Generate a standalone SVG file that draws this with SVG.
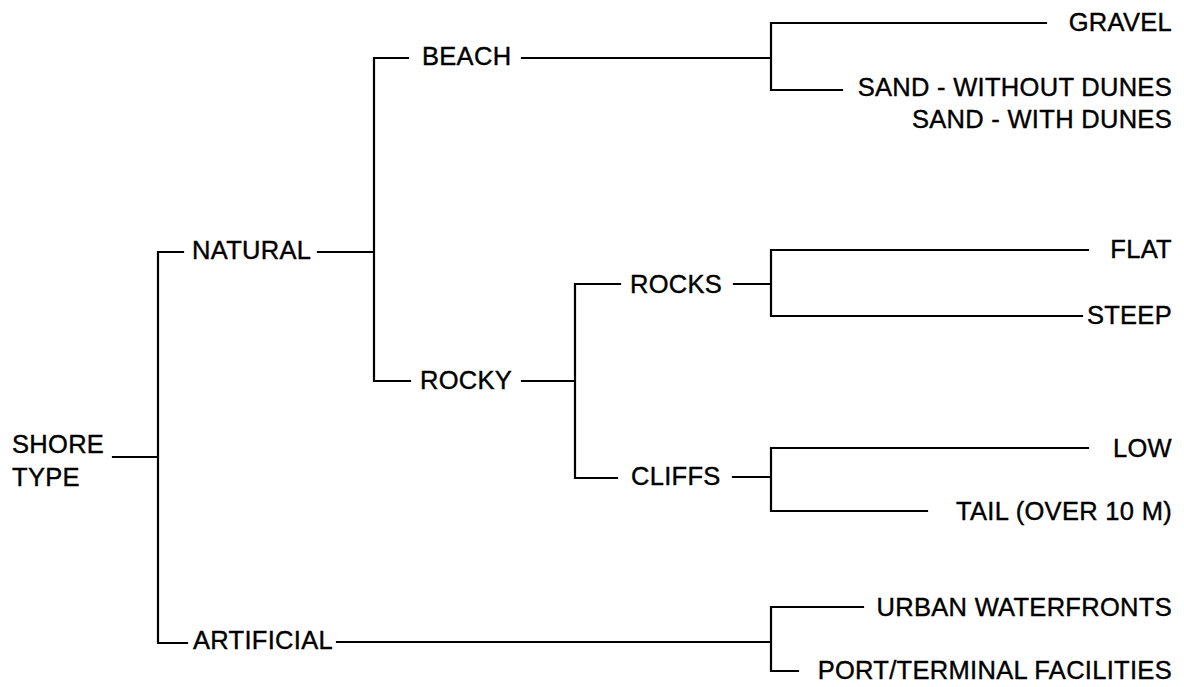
<svg xmlns="http://www.w3.org/2000/svg" width="1184" height="687" viewBox="0 0 1184 687">
<style>
text{font-family:"Liberation Sans",Arial,sans-serif;font-size:25.5px;letter-spacing:0.3px;fill:#000;stroke:#000;stroke-width:0.4}
.r{text-anchor:end}
.c{fill:none;stroke:#000;stroke-width:2.2;stroke-linecap:square}
</style>
<rect width="1184" height="687" fill="#fff"/>
<g id="connectors" class="c">
<path d="M113 457H158M158 252V643M158 252H183M158 643H187"/>
<path d="M318 252H374M374 58V381M374 58H408M374 381H410"/>
<path d="M522 58H771M771 23V90M771 23H1046M771 90H842"/>
<path d="M522 381H575M575 284V478M575 284H620M575 478H617"/>
<path d="M734 284H771M771 250V316M771 250H1088M771 316H1082"/>
<path d="M733 477H771M771 448V511M771 448H1088M771 511H927"/>
<path d="M337 642H771M771 607V671M771 607H863M771 671H798"/>
</g>
<g id="shore-type"><text x="12" y="453">SHORE</text><text x="12" y="486">TYPE</text></g>
<g id="natural"><text x="192" y="259">NATURAL</text></g>
<g id="artificial"><text x="193" y="649">ARTIFICIAL</text></g>
<g id="beach"><text x="422" y="65">BEACH</text></g>
<g id="rocky"><text x="420" y="389">ROCKY</text></g>
<g id="rocks"><text x="630" y="293">ROCKS</text></g>
<g id="cliffs"><text x="631" y="485">CLIFFS</text></g>
<g id="gravel"><text class="r" x="1172" y="31">GRAVEL</text></g>
<g id="sand-without"><text class="r" x="1172" y="96">SAND - WITHOUT DUNES</text></g>
<g id="sand-with"><text class="r" x="1172" y="128">SAND - WITH DUNES</text></g>
<g id="flat"><text class="r" x="1172" y="258">FLAT</text></g>
<g id="steep"><text class="r" x="1172" y="324">STEEP</text></g>
<g id="low"><text class="r" x="1172" y="457">LOW</text></g>
<g id="tail"><text class="r" x="1172" y="520">TAIL (OVER 10 M)</text></g>
<g id="urban"><text class="r" x="1172" y="616">URBAN WATERFRONTS</text></g>
<g id="port"><text class="r" x="1172" y="679">PORT/TERMINAL FACILITIES</text></g>
</svg>
